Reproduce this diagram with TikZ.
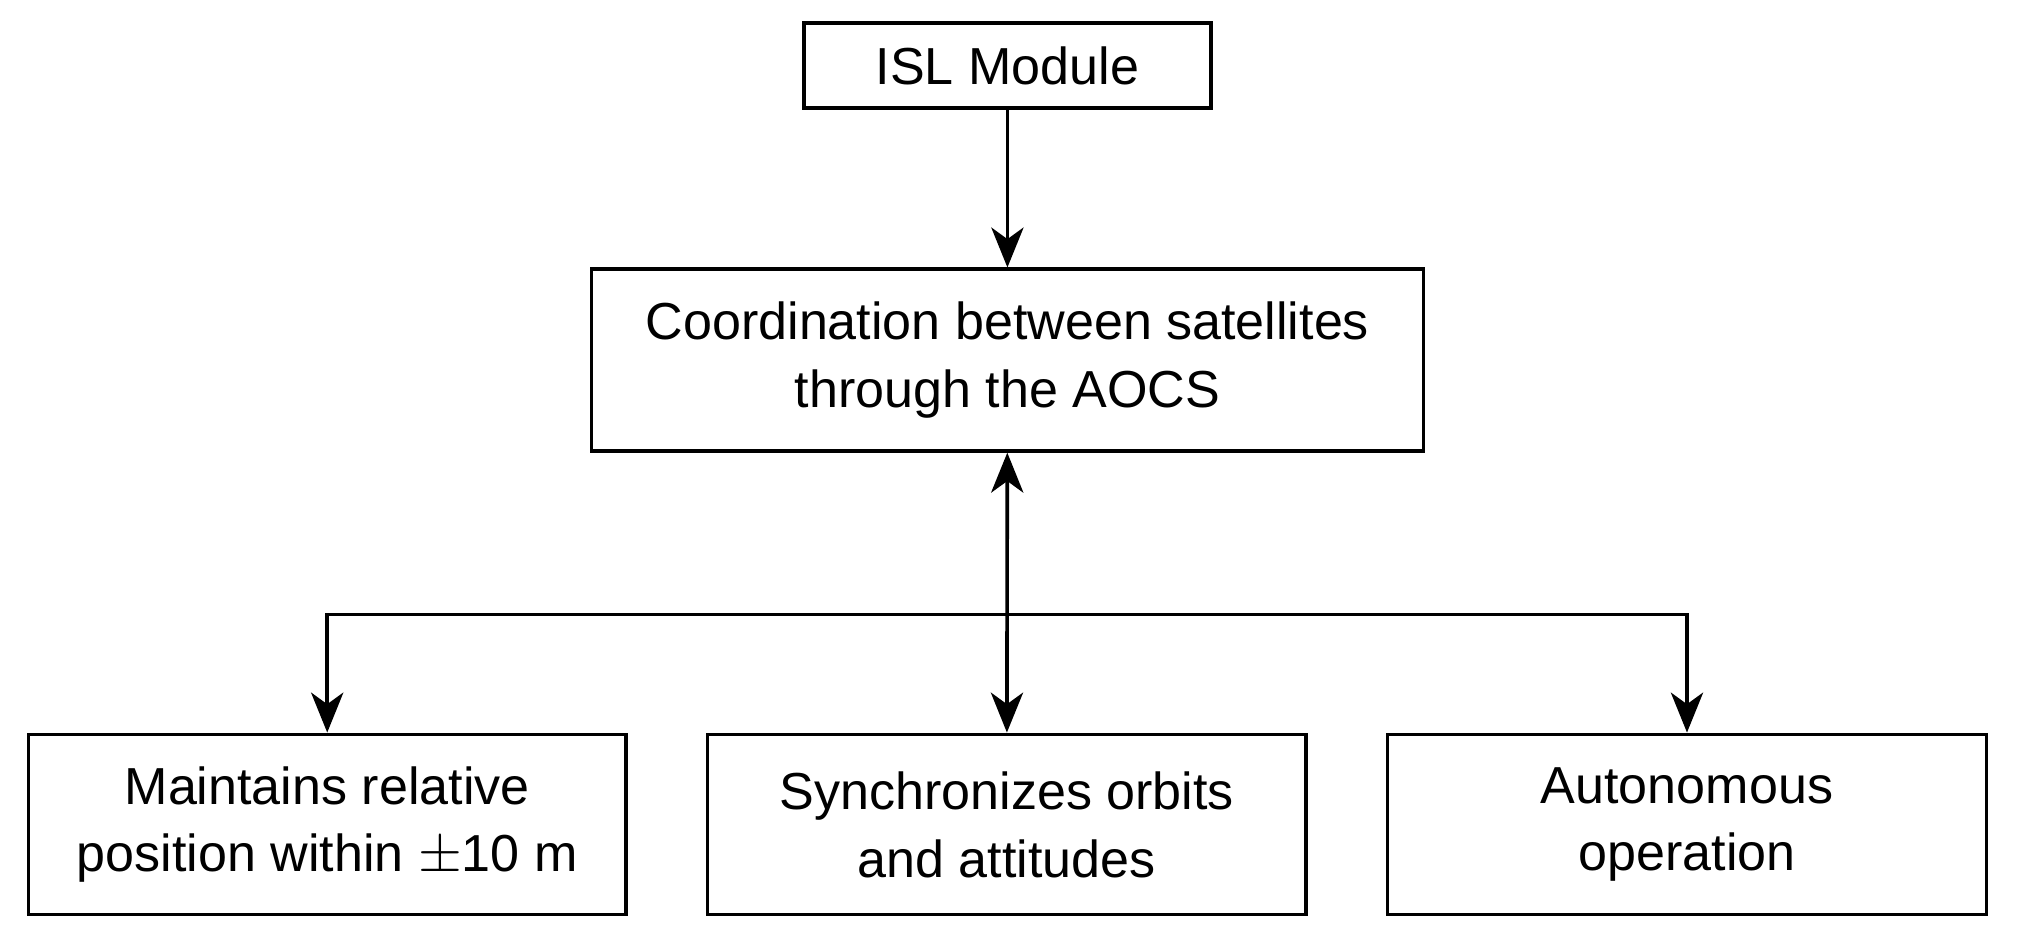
\documentclass[tikz,border=0pt]{standalone}
\usepackage{fontspec}
\setmainfont{Liberation Sans}
\usetikzlibrary{arrows.meta}

\begin{document}
\begin{tikzpicture}[x=0.02cm,y=-0.02cm,>={Stealth[length=0.62cm,width=0.5cm,inset=0.18cm]},
	line width=1.6pt,
	box/.style={rectangle,draw,align=center,inner sep=0pt,font=\fontsize{23}{30}\selectfont},
	link/.style={->,line width=1.6pt}]
	
	\useasboundingbox (0,0) rectangle (1568,735);
	
	\node[box,minimum width=6.32cm,minimum height=1.32cm] (isl) at (782,51) {ISL Module};
	\node[box,minimum width=12.92cm,minimum height=2.82cm] (coord) at (782,279.5) {Coordination between satellites\\through the AOCS};
	\node[box,minimum width=9.28cm,minimum height=2.8cm] (keep) at (254,640) {Maintains relative\\position within $\pm$10 m};
	\node[box,minimum width=9.3cm,minimum height=2.8cm] (sync) at (781.5,640) {Synchronizes orbits\\and attitudes};
	\node[box,minimum width=9.3cm,minimum height=2.8cm] (auto) at (1309.5,640) {Autonomous\\operation};
	
	\coordinate (split) at (782,477);
	
	\draw[link] (isl) -- (coord);
	\draw[link,<->] (coord) -- (sync);
	\draw[link] (split) -| (keep);
	\draw[link] (split) -| (auto);
	
\end{tikzpicture}
\end{document}
